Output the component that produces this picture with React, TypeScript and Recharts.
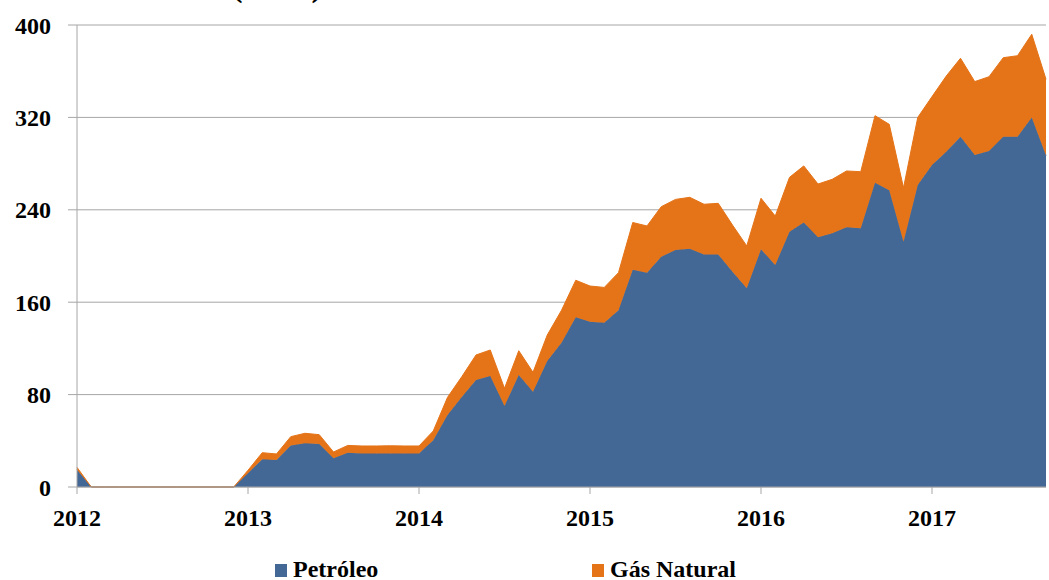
import React from 'react';
import { AreaChart, Area, XAxis, YAxis, CartesianGrid, Legend } from 'recharts';

const years = ['2012', '2013', '2014', '2015', '2016', '2017'];
const monthNums = ['01', '02', '03', '04', '05', '06', '07', '08', '09', '10', '11', '12'];
const months = years.flatMap((y) => monthNums.map((m) => `${y}-${m}`)).slice(0, 69);

// Petróleo (blue, bottom layer)
const petroleo = [
  15, 0, 0, 0, 0, 0, 0, 0, 0, 0, 0, 0,
  12, 24, 23.4, 36, 37.8, 37.2, 24.8, 29.7, 29, 29, 29, 29,
  29, 40.5, 62.3, 78, 92.6, 96.1, 70.1, 97, 82.5, 109, 125, 147,
  143, 142.3, 153, 188, 185.6, 199.4, 205.2, 206.3, 201.4, 201.4, 186.4, 172,
  205.8, 192.2, 221, 229, 216.2, 219.6, 224.8, 224, 263.5, 257, 212.4, 261.5,
  278.8, 290.3, 303.3, 287.4, 291, 303.3, 303.3, 320, 287,
];

// Gás Natural (orange, stacked on top)
const gas = [
  2, 0, 0, 0, 0, 0, 0, 0, 0, 0, 0, 0,
  2.5, 5.7, 5.2, 7.6, 8.7, 8.1, 5.5, 6.3, 6.5, 6.5, 6.7, 6.5,
  6.5, 8, 15.3, 17.5, 21.7, 22.5, 15.3, 21, 16.8, 22.6, 28, 32,
  31, 30.5, 32.6, 41, 40.4, 43.3, 43.8, 44.5, 43.4, 44.2, 40.4, 36.7,
  44.2, 42.4, 47.1, 49, 46.1, 46.8, 48.8, 49, 58, 57, 46.6, 58.5,
  59.2, 65.5, 67.9, 63.6, 64.2, 68.4, 70.1, 72, 66,
];

const yTicks = [0, 80, 160, 240, 320, 400];
const xTicks = ['2012-01', '2013-01', '2014-01', '2015-01', '2016-01', '2017-01'];
const seriesNames = ['Petróleo', 'Gás Natural'];
const titleInner = 'mil boe';

const BLUE = '#436895';
const ORANGE = '#E57317';
const GRID = '#a6a6a6';
const FONT = '"Liberation Serif", "Times New Roman", serif';

const data = months.map((m, i) => ({ month: m, petroleo: petroleo[i], gas: gas[i] }));

const LegendContent = () => {
  const items = [
    { name: seriesNames[0], color: BLUE, left: 275 },
    { name: seriesNames[1], color: ORANGE, left: 592 },
  ];
  return (
    <div style={{ position: 'relative', width: 1049, height: 28 }}>
      {items.map((it) => (
        <div
          key={it.name}
          style={{
            position: 'absolute',
            left: it.left,
            top: 0,
            display: 'flex',
            alignItems: 'center',
            fontFamily: FONT,
            fontWeight: 'bold',
            fontSize: 24,
            color: '#000',
            lineHeight: '28px',
            whiteSpace: 'nowrap',
          }}
        >
          <span style={{ display: 'inline-block', width: 12, height: 13, background: it.color, marginRight: 6, marginTop: 2 }} />
          <span>{it.name}</span>
        </div>
      ))}
    </div>
  );
};

export default function App() {
  return (
    <div style={{ position: 'absolute', left: 0, top: 0, width: 1049, height: 580, overflow: 'hidden', background: '#fff' }}>
      <svg width={1049} height={20} style={{ position: 'absolute', left: 0, top: 0 }}>
        <text x={277} y={-4} textAnchor="middle" fontFamily={FONT} fontWeight="bold" fontSize={22} fill="#000">
          <tspan fontSize={34}>(</tspan>
          <tspan dy={-6}>{titleInner}</tspan>
          <tspan fontSize={34} dy={6}>)</tspan>
        </text>
      </svg>
      <AreaChart
        width={1049}
        height={580}
        data={data}
        margin={{ top: 25, right: 3, left: 0, bottom: 48 }}
      >
        <CartesianGrid vertical={false} stroke={GRID} strokeWidth={1} />
        <XAxis
          dataKey="month"
          ticks={xTicks}
          tickFormatter={(v: string) => v.slice(0, 4)}
          interval={0}
          height={45}
          tickSize={7}
          tickMargin={15}
          axisLine={{ stroke: GRID }}
          tickLine={{ stroke: GRID }}
          tick={{ fill: '#000', fontFamily: FONT, fontWeight: 'bold', fontSize: 24 }}
        />
        <YAxis
          domain={[0, 400]}
          ticks={yTicks}
          width={77}
          tickSize={9}
          tickMargin={17}
          axisLine={{ stroke: GRID }}
          tickLine={{ stroke: GRID }}
          tick={{ fill: '#000', fontFamily: FONT, fontWeight: 'bold', fontSize: 24 }}
        />
        <Legend
          layout="horizontal"
          verticalAlign="middle"
          align="center"
          wrapperStyle={{ position: 'absolute', left: 0, top: 555, width: 1049, height: 28 }}
          content={<LegendContent />}
        />
        <Area
          type="linear"
          dataKey="petroleo"
          name={seriesNames[0]}
          stackId="1"
          stroke={BLUE}
          fill={BLUE}
          fillOpacity={1}
          strokeWidth={1}
          isAnimationActive={false}
        />
        <Area
          type="linear"
          dataKey="gas"
          name={seriesNames[1]}
          stackId="1"
          stroke={ORANGE}
          fill={ORANGE}
          fillOpacity={1}
          strokeWidth={1}
          isAnimationActive={false}
        />
      </AreaChart>
    </div>
  );
}
